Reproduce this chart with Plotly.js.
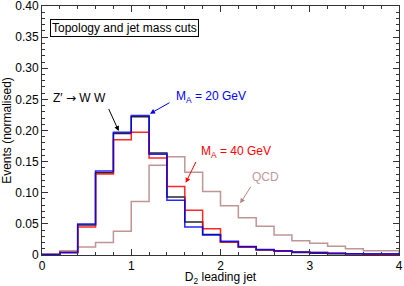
<!DOCTYPE html>
<html>
<head>
<meta charset="utf-8">
<script src="https://cdn.plot.ly/plotly-3.0.1.min.js"></script>
<style>html,body{margin:0;padding:0;background:#fff;}#chart{width:404px;height:286px;}</style>
</head>
<body>
<div id="chart"></div>
<script>
// Bin edges of the D2 histogram (width 0.2, from 0 to 3.8)
const binEdges = [0,0.2,0.4,0.6,0.8,1.0,1.2,1.4,1.6,1.8,2.0,2.2,2.4,2.6,2.8,3.0,3.2,3.4,3.6,3.8];
// Normalised event fractions per bin
const zprimeWW = [0.001,0.004,0.048,0.132,0.195,0.222,0.164,0.093,0.053,0.033,0.021,0.013,0.008,0.006,0.004,0.003,0.002,0.002,0.001];
const mA20 = [0.001,0.004,0.050,0.135,0.197,0.224,0.162,0.088,0.045,0.032,0.022,0.0135,0.009,0.007,0.005,0.004,0.003,0.002,0.002];
const mA40 = [0.001,0.004,0.045,0.130,0.185,0.197,0.156,0.110,0.072,0.042,0.021,0.013,0.0085,0.006,0.005,0.004,0.003,0.002,0.001];
const qcd = [0.001,0.007,0.013,0.020,0.038,0.086,0.144,0.158,0.133,0.102,0.079,0.060,0.046,0.032,0.023,0.019,0.014,0.010,0.007];
// Tick labels
const yTickVals = [0,0.05,0.10,0.15,0.20,0.25,0.30,0.35,0.40];
const yTickText = ['0','0.05','0.10','0.15','0.20','0.25','0.30','0.35','0.40'];
const xTickVals = [0,1,2,3,4];
const xTickText = ['0','1','2','3','4'];

function stepTrace(vals, color, width) {
  const last = binEdges[binEdges.length-1] + 0.2;
  const x = binEdges.concat([last, last]);
  const y = vals.concat([vals[vals.length-1], 0]);
  return {x: x, y: y, type: 'scatter', mode: 'lines', cliponaxis: false,
    line: {shape: 'hv', color: color, width: width}, hoverinfo: 'skip', showlegend: false};
}

const traces = [
  stepTrace(qcd, 'rgba(180,130,130,0.85)', 1.5),
  stepTrace(zprimeWW, 'rgba(0,0,0,0.85)', 1.5),
  stepTrace(mA40, 'rgba(255,0,0,0.85)', 1.5),
  stepTrace(mA20, 'rgba(0,0,255,0.85)', 1.5)
];

const fam = 'Liberation Sans, Arial, sans-serif';
const fnt = {family: fam, size: 12, color: '#000'};

function arrow(hx, hy, tx, ty, color) {
  return {x: hx, y: hy, ax: tx, ay: ty, xref: 'x', yref: 'y', axref: 'x', ayref: 'y',
    text: '', showarrow: true, arrowhead: 2, arrowsize: 1, arrowwidth: 1, arrowcolor: color};
}

const layout = {
  width: 404, height: 286,
  margin: {l: 42, r: 5, t: 6, b: 31},
  paper_bgcolor: '#fff', plot_bgcolor: '#fff',
  font: fnt,
  xaxis: {
    range: [0, 4], tickvals: xTickVals, ticktext: xTickText,
    ticks: 'inside', ticklen: 6, tickcolor: '#333', tickwidth: 1,
    minor: {dtick: 0.2, ticks: 'inside', ticklen: 3, tickcolor: '#333', tickwidth: 1, showgrid: false},
    showline: true, linecolor: '#333', linewidth: 1, mirror: 'allticks',
    showgrid: false, zeroline: false, ticklabeloverflow: 'allow',
    tickfont: fnt,
    title: {text: 'D<sub>2</sub> leading jet', font: fnt, standoff: 3}
  },
  yaxis: {
    range: [0, 0.4], tickvals: yTickVals, ticktext: yTickText,
    ticks: 'inside', ticklen: 6, tickcolor: '#333', tickwidth: 1,
    minor: {dtick: 0.01, ticks: 'inside', ticklen: 3, tickcolor: '#333', tickwidth: 1, showgrid: false},
    showline: true, linecolor: '#333', linewidth: 1, mirror: 'allticks',
    showgrid: false, zeroline: false, ticklabeloverflow: 'allow',
    tickfont: fnt,
    title: {text: 'Events (normalised)', font: fnt, standoff: 2}
  },
  annotations: [
    {x: 0.085, y: 0.365, xref: 'x', yref: 'y', xanchor: 'left', yanchor: 'middle',
     text: 'Topology and jet mass cuts', showarrow: false, font: fnt,
     bordercolor: '#000', borderwidth: 1, borderpad: 1, bgcolor: '#fff'},
    {x: 0.10, y: 0.253, xref: 'x', yref: 'y', xanchor: 'left', yanchor: 'middle',
     text: 'Z\u2032 <span style="font-family:DejaVu Sans">\u2192</span> W W', showarrow: false, font: fnt},
    {x: 1.48, y: 0.254, xref: 'x', yref: 'y', xanchor: 'left', yanchor: 'middle',
     text: 'M<sub>A</sub> = 20 GeV', showarrow: false, font: {family: fam, size: 12, color: '#0000ff'}},
    {x: 1.76, y: 0.165, xref: 'x', yref: 'y', xanchor: 'left', yanchor: 'middle',
     text: 'M<sub>A</sub> = 40 GeV', showarrow: false, font: {family: fam, size: 12, color: '#ff0000'}},
    {x: 2.33, y: 0.125, xref: 'x', yref: 'y', xanchor: 'left', yanchor: 'middle',
     text: 'QCD', showarrow: false, font: {family: fam, size: 12, color: '#c09a9a'}},
    arrow(0.86, 0.199, 0.74, 0.237, '#000'),
    arrow(1.21, 0.227, 1.445, 0.246, '#0000ff'),
    arrow(1.61, 0.116, 1.733, 0.152, '#ff0000'),
    arrow(2.22, 0.083, 2.35, 0.112, '#b08888')
  ]
};

Plotly.newPlot('chart', traces, layout, {staticPlot: true, displayModeBar: false});
</script>
</body>
</html>
